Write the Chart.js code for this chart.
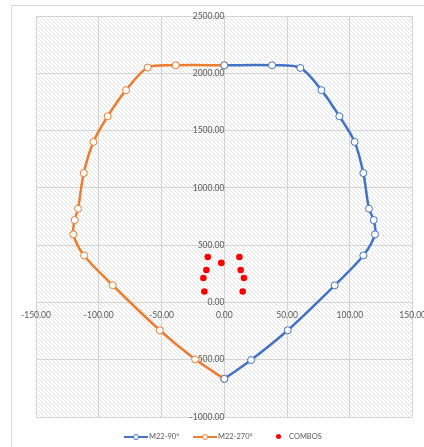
<!DOCTYPE html>
<html>
<head>
<meta charset="utf-8">
<script src="https://cdn.jsdelivr.net/npm/chart.js@4.4.1/dist/chart.umd.min.js"></script>
<style>
  body { margin: 0; background: #fff; font-family: Lato, "Liberation Sans", sans-serif; }
  #wrap { position: relative; width: 424px; height: 447px; overflow: hidden; }
  #frame { position: absolute; left: 11px; top: 5px; width: 430px; height: 460px; border: 1px solid #d9d9d9; box-sizing: border-box; }
  canvas { position: absolute; left: 0; top: 0; }
  #legend { position: absolute; top: 431px; left: 0; width: 424px; font-size: 7.5px; color: #595959; }
  .item { position: absolute; top: 0; height: 12px; line-height: 12px; white-space: nowrap; }
  .sw { display: inline-block; position: relative; width: 24px; height: 12px; vertical-align: top; margin-right: 1px; }
  .sw i { position: absolute; left: 0; right: 0; top: 5px; height: 2px; }
  .sw b { position: absolute; left: 9px; top: 3px; width: 4px; height: 4px; border-radius: 50%; background: #fff; border: 1px solid; }
  .dot { display: inline-block; width: 5px; height: 5px; border-radius: 50%; background: #ff0000; vertical-align: middle; margin-right: 8px; margin-top: -2px; }
</style>
</head>
<body>
<div id="wrap">
  <div id="frame"></div>
  <canvas id="chart" width="434" height="447"></canvas>
  <div id="legend">
    <div class="item" style="left:124px"><span class="sw"><i style="background:#4472c4"></i><b style="border-color:#4472c4"></b></span>M22-90°</div>
    <div class="item" style="left:193px"><span class="sw"><i style="background:#ed7d31"></i><b style="border-color:#ed7d31"></b></span>M22-270°</div>
    <div class="item" style="left:276px"><span class="dot"></span>COMBOS</div>
  </div>
</div>
<script>
// interaction curve M22 at 90 deg
const m90X = [0, 38, 60.5, 77.3, 91.6, 103.8, 110.7, 115.2, 119, 120, 110.7, 87.9, 50.5, 21.3, 0];
const m90Y = [2070, 2070, 2047, 1853, 1625, 1401, 1129, 818, 719, 594, 410, 149, -243, -503, -667];
// interaction curve M22 at 270 deg
const m270X = [0, -38.7, -61, -78.3, -92.9, -104.3, -112, -116.5, -119.2, -120.3, -111.7, -88.9, -51.4, -23.3, 0];
const m270Y = [2070, 2070, 2050, 1853, 1625, 1401, 1129, 818, 719, 594, 410, 150, -243, -497, -667];
// load combinations
const comboX = [-13.2, -2.4, 12.0, -14.3, 13.0, -16.7, 15.6, -15.9, 14.6];
const comboY = [397, 345, 397, 283, 283, 213, 213, 96, 96];

const toPts = (xs, ys) => xs.map((x, i) => ({ x: x, y: ys[i] }));

// diagonal hatch for the plot area
function hatch() {
  const c = document.createElement('canvas');
  c.width = 4; c.height = 4;
  const g = c.getContext('2d');
  g.fillStyle = '#ffffff';
  g.fillRect(0, 0, 4, 4);
  g.strokeStyle = '#e2e2e2';
  g.lineWidth = 1;
  g.beginPath();
  g.moveTo(-1, -1); g.lineTo(5, 5);
  g.moveTo(-1, 3); g.lineTo(1, 5);
  g.moveTo(3, -1); g.lineTo(5, 1);
  g.stroke();
  return g.createPattern(c, 'repeat');
}

const bgPlugin = {
  id: 'bg',
  beforeDraw(chart) {
    const a = chart.chartArea, ctx = chart.ctx;
    ctx.save();
    ctx.fillStyle = hatch();
    ctx.fillRect(a.left, a.top, a.right - a.left, a.bottom - a.top);
    ctx.restore();
  }
};

const fmt = v => Number(v).toFixed(2);

new Chart(document.getElementById('chart'), {
  type: 'scatter',
  data: {
    datasets: [
      {
        label: 'M22-90°',
        data: toPts(m90X, m90Y),
        showLine: true,
        tension: 0.3,
        borderColor: '#4472c4',
        borderWidth: 2.5,
        pointRadius: 3.5,
        pointBorderWidth: 1,
        pointBackgroundColor: '#ffffff',
        pointBorderColor: '#4472c4'
      },
      {
        label: 'M22-270°',
        data: toPts(m270X, m270Y),
        showLine: true,
        tension: 0.3,
        borderColor: '#ed7d31',
        borderWidth: 2.5,
        pointRadius: 3.5,
        pointBorderWidth: 1,
        pointBackgroundColor: '#ffffff',
        pointBorderColor: '#ed7d31'
      },
      {
        label: 'COMBOS',
        data: toPts(comboX, comboY),
        pointRadius: 3.3,
        pointBackgroundColor: '#ff0000',
        pointBorderColor: '#ff0000',
        borderWidth: 0
      }
    ]
  },
  options: {
    responsive: false,
    animation: false,
    layout: { padding: { left: 36, top: 16, right: 1, bottom: 30 } },
    plugins: { legend: { display: false }, tooltip: { enabled: false } },
    scales: {
      x: {
        type: 'linear',
        min: -150, max: 150,
        position: { y: 0 },
        border: { display: false },
        grid: { color: '#d4d4d4', lineWidth: 1, drawTicks: false },
        ticks: { stepSize: 50, color: '#595959', font: { size: 8.5, family: 'Lato' }, padding: 8, callback: fmt, maxRotation: 0 }
      },
      y: {
        type: 'linear',
        min: -1000, max: 2500,
        position: { x: 0 },
        border: { display: false },
        grid: { color: '#d4d4d4', lineWidth: 1, drawTicks: false },
        ticks: { stepSize: 500, color: '#595959', font: { size: 8.5, family: 'Lato' }, padding: 8, callback: fmt }
      }
    }
  },
  plugins: [bgPlugin]
});
</script>
</body>
</html>
